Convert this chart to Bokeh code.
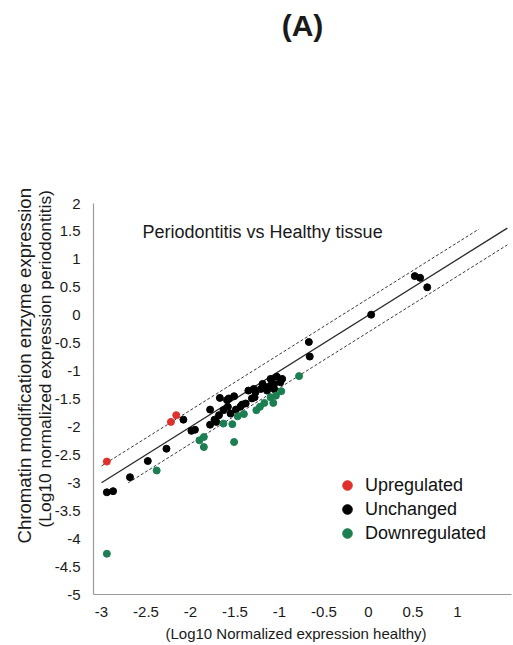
from bokeh.plotting import figure
from bokeh.models import Label, Legend, LegendItem, FixedTicker, Title, LinearAxis
from bokeh.embed import file_html
from bokeh.resources import INLINE

# ---------------- data ----------------
up_x = [-2.94, -2.22, -2.16]
up_y = [-2.62, -1.91, -1.79]

down_x = [-2.94, -2.38, -1.90, -1.85, -1.85, -1.51, -1.63, -1.53, -1.47, -1.40,
          -1.26, -1.22, -1.17, -1.07, -1.04, -0.98, -0.78, -1.10]
down_y = [-4.27, -2.78, -2.24, -2.18, -2.36, -2.27, -1.94, -1.95, -1.81, -1.77,
          -1.70, -1.64, -1.57, -1.57, -1.44, -1.36, -1.09, -1.47]

unch_x = [-2.94, -2.87, -2.68, -2.48, -2.27, -2.08, -1.99, -1.95, -1.78, -1.78,
          -1.67, -1.59, -1.51, -1.58, -1.63, -1.68, -1.73, -1.71, -1.55, -1.49,
          -1.44, -1.38, -1.35, -1.31, -1.27, -1.21, -1.19, -1.14, -1.10, -1.06,
          -1.03, -1.29, -1.28, -1.14, -1.10, -1.06, -0.99, -0.97, -1.57, -1.42,
          -0.67, -0.66, 0.03, 0.52, 0.58, 0.66]
unch_y = [-3.17, -3.15, -2.90, -2.61, -2.39, -1.87, -2.07, -2.05, -1.96, -1.69,
          -1.48, -1.52, -1.45, -1.64, -1.70, -1.79, -1.87, -1.91, -1.76, -1.69,
          -1.64, -1.58, -1.35, -1.49, -1.38, -1.32, -1.23, -1.35, -1.14, -1.23,
          -1.10, -1.32, -1.47, -1.29, -1.26, -1.32, -1.20, -1.14, -1.49, -1.60,
          -0.48, -0.74, 0.01, 0.70, 0.67, 0.50]

# reference lines: identity and +/- two-fold (log10 2)
fold = 0.301
diag_x = [-3.0, 1.56]
upper_x = [-3.0, 1.24]
lower_x = [-2.7, 1.56]

x_ticks = [-3, -2.5, -2, -1.5, -1, -0.5, 0, 0.5, 1]
x_tick_labels = ["-3", "-2.5", "-2", "-1.5", "-1", "-0.5", "0", "0.5", "1"]
y_ticks = [2, 1.5, 1, 0.5, 0, -0.5, -1, -1.5, -2, -2.5, -3, -3.5, -4, -4.5, -5]
y_tick_labels = ["2", "1.5", "1", "0.5", "0", "-0.5", "-1", "-1.5", "-2", "-2.5",
                 "-3", "-3.5", "-4", "-4.5", "-5"]

series_names = ["Upregulated", "Unchanged", "Downregulated"]
FONT = "Liberation Sans"
TXT = "#1a1a1a"

# ---------------- figure ----------------
p = figure(width=513, height=645, x_range=(-3.09, 1.607), y_range=(-5, 2),
           output_backend="svg", toolbar_location=None,
           min_border_left=93, min_border_right=2, min_border_top=203,
           min_border_bottom=51)
p.xgrid.visible = False
p.ygrid.visible = False
p.outline_line_color = None

for ax, ticks, labels, standoff in ((p.xaxis, x_ticks, x_tick_labels, 6),
                                    (p.yaxis, y_ticks, y_tick_labels, 7)):
    ax.ticker = FixedTicker(ticks=ticks)
    ax.major_label_overrides = {float(t): l for t, l in zip(ticks, labels)}
    ax.axis_line_color = "#9a9a9a"
    ax.axis_line_width = 1.2
    ax.major_tick_line_color = None
    ax.minor_tick_line_color = None
    ax.major_label_text_font = FONT
    ax.major_label_text_font_size = "15px"
    ax.major_label_text_color = TXT
    ax.major_label_standoff = standoff

# lines
p.line(diag_x, [v for v in diag_x], line_color="#2a2a2a", line_width=1.3)
p.line(upper_x, [v + fold for v in upper_x], line_color="#3a3a3a",
       line_width=1.0, line_dash="3 2")
p.line(lower_x, [v - fold for v in lower_x], line_color="#3a3a3a",
       line_width=1.0, line_dash="3 2")

# points
r_unch = p.scatter(unch_x, unch_y, size=7, color="#000000")
r_down = p.scatter(down_x, down_y, size=7, color="#1b7f52")
r_up = p.scatter(up_x, up_y, size=7, color="#e0302e")

legend = Legend(items=[LegendItem(label=series_names[0], renderers=[r_up]),
                       LegendItem(label=series_names[1], renderers=[r_unch]),
                       LegendItem(label=series_names[2], renderers=[r_down])],
                location=(242, 49), glyph_width=24, glyph_height=24, spacing=0,
                padding=0, margin=0, label_standoff=6,
                label_text_font=FONT, label_text_font_size="18px",
                label_text_color="#111111",
                background_fill_alpha=0, border_line_alpha=0)
p.add_layout(legend)

# panel title "(A)" as the label of an otherwise empty top axis
top_axis = LinearAxis(axis_label="(A)", ticker=FixedTicker(ticks=[]),
                      axis_line_color=None, major_tick_line_color=None,
                      minor_tick_line_color=None, major_tick_out=0,
                      minor_tick_out=0, major_label_standoff=0,
                      axis_label_standoff=162, axis_label_text_font=FONT,
                      axis_label_text_font_size="30px",
                      axis_label_text_font_style="bold",
                      axis_label_text_color=TXT)
p.add_layout(top_axis, "above")

# axis titles
p.add_layout(Title(text="(Log10 normalized expression periodontitis)",
                   align="left", offset=67, standoff=-6,
                   text_font=FONT, text_font_size="17.4px",
                   text_font_style="normal", text_color=TXT), "left")
p.add_layout(Title(text="Chromatin modification enzyme expression",
                   align="left", offset=51, standoff=2,
                   text_font=FONT, text_font_size="18.6px",
                   text_font_style="normal", text_color=TXT), "left")
p.add_layout(Title(text="(Log10 Normalized expression healthy)",
                   align="left", offset=72, standoff=6,
                   text_font=FONT, text_font_size="15px",
                   text_font_style="normal", text_color=TXT), "below")

# in-plot annotation
p.add_layout(Label(x=-2.539, y=1.481, text="Periodontitis vs Healthy tissue",
                   text_font=FONT, text_font_size="18px",
                   text_baseline="middle", text_color=TXT))

open("out.html", "w").write(file_html(p, INLINE))
